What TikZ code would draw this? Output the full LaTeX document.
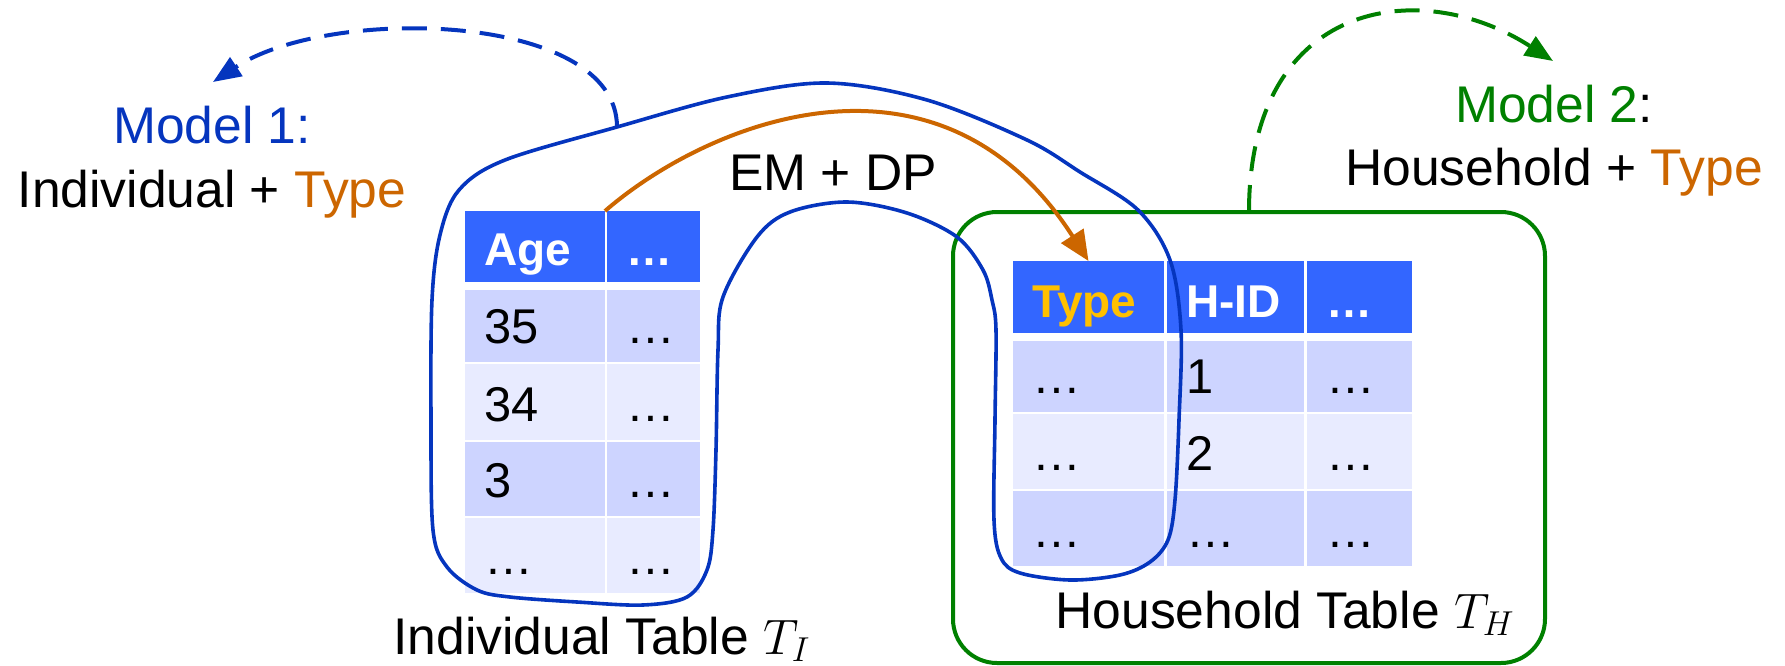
\documentclass[tikz,border=0pt]{standalone}
\usepackage{fontspec}
\setmainfont{Liberation Sans}
\usetikzlibrary{arrows.meta,fit}

\definecolor{hdblue}{HTML}{3366FF}
\definecolor{dkrow}{HTML}{CDD4FF}
\definecolor{ltrow}{HTML}{E8EBFF}
\definecolor{mblue}{HTML}{0535BE}
\definecolor{mgreen}{HTML}{008000}
\definecolor{orng}{HTML}{CC6600}
\definecolor{gold}{HTML}{FFC000}

% one table cell: name, x1, y1, x2, y2, kind (hd/dk/lt), baseline offset, text
\newcommand\mycell[8]{%
  \node[#6box, fit={(#2,#3)(#4,#5)}] (#1) {};
  \node[#6txt] (#1-t) at ({#2+19},{#5-#7}) {#8};}

\begin{document}
\begin{tikzpicture}[x=0.5pt,y=-0.5pt,
  cellbox/.style={draw=none, inner sep=0pt, outer sep=0pt},
  hdbox/.style={cellbox, fill=hdblue},
  dkbox/.style={cellbox, fill=dkrow},
  ltbox/.style={cellbox, fill=ltrow},
  celltxt/.style={anchor=base west, inner sep=0pt, font=\fontsize{24.4}{29}\selectfont},
  hdtxt/.style={anchor=base west, inner sep=0pt, text=white, font=\fontsize{23}{28}\selectfont\bfseries},
  dktxt/.style={celltxt},
  lttxt/.style={celltxt},
  lbl/.style={anchor=base, inner sep=0pt, font=\fontsize{25.8}{31}\selectfont},
  loopline/.style={draw=mblue, line width=1.8pt},
  dasharrow/.style={line width=2pt, dash pattern=on 12.5pt off 7pt, -{Triangle[length=14pt,width=11pt]}},
]
\useasboundingbox (0,0) rectangle (1785,665);

% individual table
\mycell{iA}{465}{211}{605}{282}{hd}{17}{Age}
\mycell{iB}{607}{211}{700}{282}{hd}{17}{…}
\mycell{i1a}{465}{290}{605}{362}{dk}{19}{35}
\mycell{i1b}{607}{290}{700}{362}{dk}{19}{…}
\mycell{i2a}{465}{364}{605}{440}{lt}{19}{34}
\mycell{i2b}{607}{364}{700}{440}{lt}{19}{…}
\mycell{i3a}{465}{442}{605}{516}{dk}{19}{3}
\mycell{i3b}{607}{442}{700}{516}{dk}{19}{…}
\mycell{i4a}{465}{518}{605}{593}{lt}{19}{…}
\mycell{i4b}{607}{518}{700}{593}{lt}{19}{…}

% household table
\mycell{hA}{1013}{261}{1164}{333}{hd}{16}{\textcolor{gold}{Type}}
\mycell{hB}{1167}{261}{1304}{333}{hd}{16}{H-ID}
\mycell{hC}{1307}{261}{1412}{333}{hd}{16}{…}
\mycell{h1a}{1013}{341}{1164}{412}{dk}{19}{…}
\mycell{h1b}{1167}{341}{1304}{412}{dk}{19}{1}
\mycell{h1c}{1307}{341}{1412}{412}{dk}{19}{…}
\mycell{h2a}{1013}{414}{1164}{489}{lt}{19}{…}
\mycell{h2b}{1167}{414}{1304}{489}{lt}{19}{2}
\mycell{h2c}{1307}{414}{1412}{489}{lt}{19}{…}
\mycell{h3a}{1013}{491}{1164}{566}{dk}{19}{…}
\mycell{h3b}{1167}{491}{1304}{566}{dk}{19}{…}
\mycell{h3c}{1307}{491}{1412}{566}{dk}{19}{…}

% household frame
\node[fit={(953,212)(1545,663)}, inner sep=0pt, draw=mgreen, line width=2pt,
      rounded corners=22pt] (hbox) {};

% blue outline around the individual table and the Type column
\draw[loopline] plot[smooth cycle, tension=0.55] coordinates {
  (432,300) (440,235) (459,190) (505,160) (617,127) (727,97) (827,83)
  (927,100) (1027,140) (1080,172) (1138,210) (1170,260) (1181,330)
  (1179,420) (1175,500) (1168,540) (1150,562) (1120,575) (1070,580)
  (1020,573) (1001,558) (994,520) (995,420) (996,330) (992,300)
  (983,270) (957,237) (907,213) (847,202) (790,212) (757,237) (723,297)
  (718,350) (716,450) (713,530) (707,570) (687,597) (643,605) (577,602)
  (510,597) (477,590) (447,567) (433,530) (431,420)};
\coordinate (looptop) at (617,127);

% labels
\node[lbl, text=mblue] (m1) at (212,143) {Model 1:};
\node[lbl] (m1b) at (212,207) {Individual + \textcolor{orng}{Type}};
\node[lbl] (m2) at (1554,122) {\textcolor{mgreen}{Model 2}:};
\node[lbl] (m2b) at (1554,185) {Household + \textcolor{orng}{Type}};
\node[lbl] (em) at (833,190) {EM + DP};
\node[lbl] (itab) at (602,654) {Individual Table $T_I$};
\node[lbl] (htab) at (1285,628) {Household Table $T_H$};

\coordinate (m1tip) at (213,82);
\coordinate (m2tip) at (1553,61);

% EM + DP transfer of the type
\draw[orng, line width=2pt, -{Triangle[length=15pt,width=13pt]}]
  (iA.north east) .. controls (710,120) and (940,30) .. (hA.north);

% model arrows
\draw[mblue, dasharrow] (looptop) .. controls (617,12) and (330,5) .. (m1tip);
\draw[mgreen, dasharrow] (hbox.north) .. controls (1250,0) and (1420,-25) .. (m2tip);
\end{tikzpicture}
\end{document}
